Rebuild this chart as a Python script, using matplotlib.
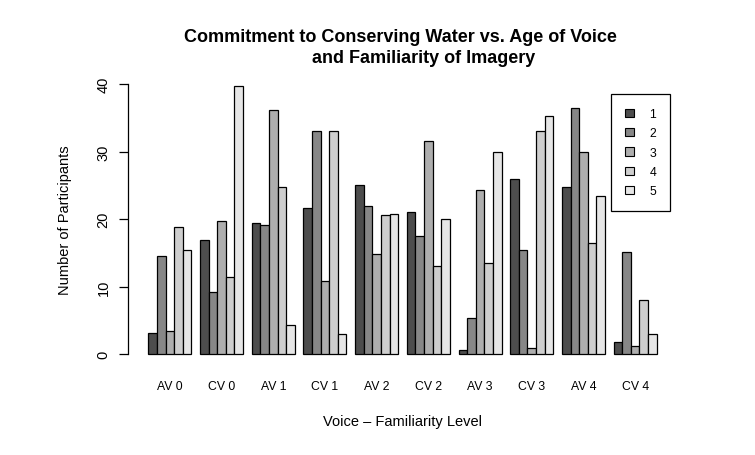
import numpy as np
import matplotlib
matplotlib.use("Agg")
import matplotlib.pyplot as plt
from matplotlib.patches import Patch

plt.rcParams['font.family'] = ['Liberation Sans', 'DejaVu Sans']

# groups along the x axis
groups = ["AV 0", "CV 0", "AV 1", "CV 1", "AV 2", "CV 2", "AV 3", "CV 3", "AV 4", "CV 4"]
levels = ["1", "2", "3", "4", "5"]

# number of participants per commitment level
level1 = [3.1, 16.9, 19.5, 21.7, 25.1, 21.0, 0.6, 25.9, 24.7, 1.8]
level2 = [14.6, 9.2, 19.1, 33.0, 22.0, 17.5, 5.3, 15.5, 36.5, 15.2]
level3 = [3.5, 19.7, 36.1, 10.8, 14.8, 31.5, 24.3, 0.9, 30.0, 1.2]
level4 = [18.8, 11.5, 24.7, 33.0, 20.6, 13.0, 13.5, 33.0, 16.4, 8.0]
level5 = [15.5, 39.7, 4.4, 3.0, 20.7, 20.0, 30.0, 35.2, 23.4, 3.0]
series = [level1, level2, level3, level4, level5]

colors = ["#4D4D4D", "#878787", "#AEAEAE", "#CECECE", "#E6E6E6"]

W, H = 755, 456
fig = plt.figure(figsize=(W / 100, H / 100), dpi=100)
ax = fig.add_axes([128 / W, (H - 366.1) / H, 549 / W, 291.9 / H])

# R style beside barplot: one empty bar width between groups
ng = len(groups)
nl = len(levels)
for j, vals in enumerate(series):
    lefts = 1 + np.arange(ng) * (nl + 1) + j
    ax.bar(lefts, vals, width=1, align="edge", color=colors[j],
           edgecolor="black", linewidth=0.9, clip_on=False)

centers = 1 + np.arange(ng) * (nl + 1) + nl / 2
ax.set_xticks(centers)
ax.set_xticklabels(groups, fontsize=8.8)
ax.tick_params(axis="x", length=0, pad=10.5)

ax.set_xlim(-1.36, 62.36)
ax.set_ylim(-1.6, 41.6)
ax.set_yticks([0, 10, 20, 30, 40])
ax.set_yticklabels(["0", "10", "20", "30", "40"], rotation=90, va="center", fontsize=10.5)
ax.tick_params(axis="y", length=6.5, width=0.9, pad=6)

for s in ["top", "right", "bottom"]:
    ax.spines[s].set_visible(False)
ax.spines["left"].set_bounds(0, 40)
ax.spines["left"].set_linewidth(0.9)

ax.set_xlabel("Voice \u2013 Familiarity Level", fontsize=10.5, va="baseline")
ax.xaxis.set_label_coords(0.5, (366.1 - 426) / 291.9)
ax.set_ylabel("Number of Participants", fontsize=10.5, va="center")
ax.yaxis.set_label_coords((65 - 128) / 549, 0.5)

fig.text(400 / W, (H - 42) / H, "Commitment to Conserving Water vs. Age of Voice",
         ha="center", va="baseline", fontsize=13, fontweight="bold")
fig.text(424 / W, (H - 63) / H, "and Familiarity of Imagery",
         ha="center", va="baseline", fontsize=13, fontweight="bold")

handles = [Patch(facecolor=c, edgecolor="black", linewidth=0.8) for c in colors]
leg = fig.legend(handles, levels, loc="upper left", bbox_to_anchor=(611 / W, 1 - 95 / H),
                 fontsize=8.8, frameon=True, fancybox=False, framealpha=1,
                 edgecolor="black", handlelength=0.7, handleheight=0.7,
                 handletextpad=1.3, labelspacing=0.6, borderpad=1.15, borderaxespad=0)
leg.get_frame().set_linewidth(0.9)

fig.savefig("out.png", dpi=100)
